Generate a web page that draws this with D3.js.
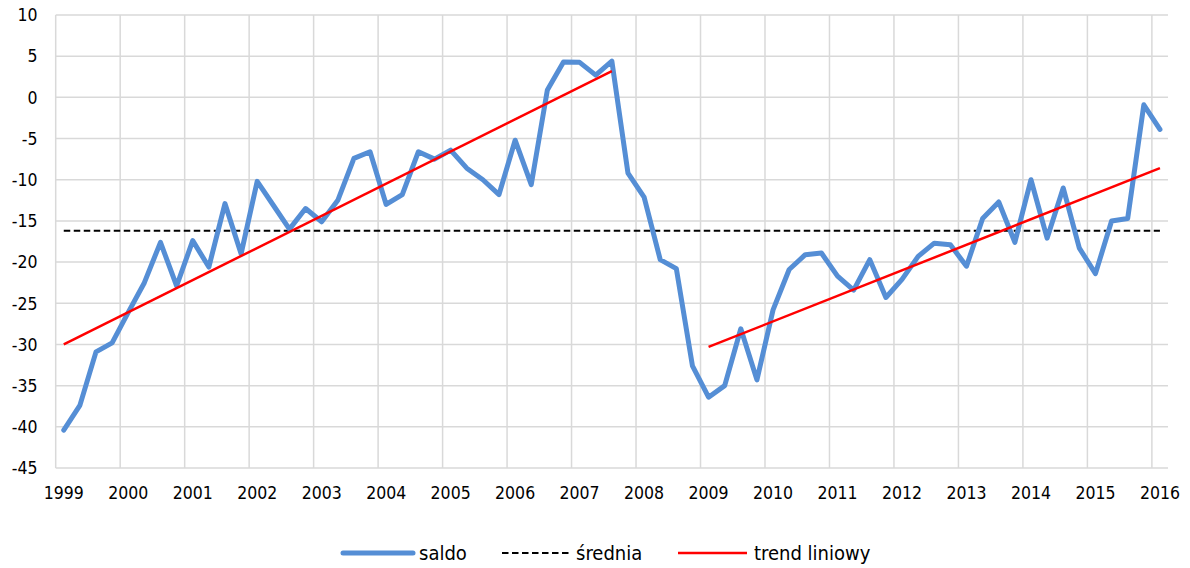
<!DOCTYPE html>
<html>
<head>
<meta charset="utf-8">
<script src="https://cdn.jsdelivr.net/npm/d3@7"></script>
<style>
body { margin: 0; background: #fff; }
text { font-family: "DejaVu Sans Condensed", "DejaVu Sans", Verdana, sans-serif; font-stretch: condensed; fill: #000; }
</style>
</head>
<body>
<script>
// quarterly balance 1999Q1 - 2016Q1
var saldo = [-40.4, -37.4, -30.9, -29.8, -26.1, -22.5, -17.6, -22.9,
             -17.4, -20.6, -12.9, -19.0, -10.2, -13.1, -16.0, -13.5,
             -15.1, -12.5, -7.4, -6.6, -13.0, -11.8, -6.6, -7.5,
             -6.4, -8.6, -10.0, -11.8, -5.2, -10.6, 0.9, 4.3,
             4.25, 2.7, 4.4, -9.2, -12.1, -19.7, -20.8, -32.6,
             -36.4, -35.0, -28.1, -34.3, -25.8, -20.9, -19.1, -18.9,
             -21.7, -23.4, -19.7, -24.3, -22.1, -19.3, -17.7, -17.9,
             -20.5, -14.7, -12.7, -17.6, -10.0, -17.1, -11.0, -18.3,
             -21.4, -15.0, -14.7, -0.9, -3.9]
var srednia = -16.2
// trend segments: [start index, start value, end index, end value]
var trend = [[0, -30.0, 34, 3.2], [40, -30.3, 68, -8.6]]
var years = d3.range(1999, 2017)
var yTicks = d3.range(-45, 11, 5)
var legendNames = ["saldo", "średnia", "trend liniowy"]

var width = 1190, height = 568
var svg = d3.select("body").append("svg")
    .attr("width", width)
    .attr("height", height)

var x = d3.scaleLinear().domain([0, saldo.length]).range([55.7, 1168])
var y = d3.scaleLinear().domain([-45, 10]).range([468, 15])

//Grid
svg.selectAll(".hgrid").data(yTicks).enter()
    .append("line")
        .attr("class", "hgrid")
        .attr("x1", x(0)).attr("x2", x(saldo.length))
        .attr("y1", function(d){ return y(d) })
        .attr("y2", function(d){ return y(d) })
        .attr("stroke", "#d9d9d9")
        .attr("stroke-width", 1.5)
svg.selectAll(".vgrid").data(years).enter()
    .append("line")
        .attr("class", "vgrid")
        .attr("x1", function(d){ return x((d-1999)*4) })
        .attr("x2", function(d){ return x((d-1999)*4) })
        .attr("y1", y(10)).attr("y2", y(-45))
        .attr("stroke", "#d9d9d9")
        .attr("stroke-width", 1.5)

//Axis labels
svg.selectAll(".ylab").data(yTicks).enter()
    .append("text")
        .attr("x", 37.5)
        .attr("y", function(d){ return y(d) })
        .attr("dy", "0.36em")
        .attr("text-anchor", "end")
        .attr("font-size", "17.5px")
        .text(function(d){ return d })
// year labels sit under the first quarter of each year
svg.selectAll(".xlab").data(years).enter()
    .append("text")
        .attr("x", function(d){ return x((d-1999)*4 + 0.5) })
        .attr("y", 499)
        .attr("text-anchor", "middle")
        .attr("font-size", "17.5px")
        .text(function(d){ return d })

//Average line
svg.append("line")
    .attr("x1", x(0.5)).attr("x2", x(saldo.length - 0.5))
    .attr("y1", y(srednia)).attr("y2", y(srednia))
    .attr("stroke", "#000")
    .attr("stroke-width", 2)
    .attr("stroke-dasharray", "6.5,3.5")

//Saldo
var line = d3.line()
    .x(function(d, i){ return x(i + 0.5) })
    .y(function(d){ return y(d) })
svg.append("path")
    .datum(saldo)
    .attr("d", line)
    .attr("fill", "none")
    .attr("stroke", "#558ED5")
    .attr("stroke-width", 5)
    .attr("stroke-linejoin", "round")
    .attr("stroke-linecap", "round")

//Trend
svg.selectAll(".trend").data(trend).enter()
    .append("line")
        .attr("class", "trend")
        .attr("x1", function(d){ return x(d[0] + 0.5) })
        .attr("y1", function(d){ return y(d[1]) })
        .attr("x2", function(d){ return x(d[2] + 0.5) })
        .attr("y2", function(d){ return y(d[3]) })
        .attr("stroke", "#ff0000")
        .attr("stroke-width", 2.5)

//Legend
var lx = [343, 502, 678]
var ly = 553
svg.append("line")
    .attr("x1", lx[0]).attr("x2", lx[0] + 70)
    .attr("y1", ly).attr("y2", ly)
    .attr("stroke", "#558ED5").attr("stroke-width", 5)
    .attr("stroke-linecap", "round")
svg.append("line")
    .attr("x1", lx[1]).attr("x2", lx[1] + 70)
    .attr("y1", ly).attr("y2", ly)
    .attr("stroke", "#000").attr("stroke-width", 2)
    .attr("stroke-dasharray", "6.5,3.5")
svg.append("line")
    .attr("x1", lx[2]).attr("x2", lx[2] + 69)
    .attr("y1", ly).attr("y2", ly)
    .attr("stroke", "#ff0000").attr("stroke-width", 2.5)
var textX = [419, 576, 754]
for (var i=0;i<legendNames.length;i++){
    svg.append("text")
        .attr("x", textX[i])
        .attr("y", ly)
        .attr("dy", "0.36em")
        .attr("font-size", "20px")
        .text(legendNames[i])
}
</script>
</body>
</html>
